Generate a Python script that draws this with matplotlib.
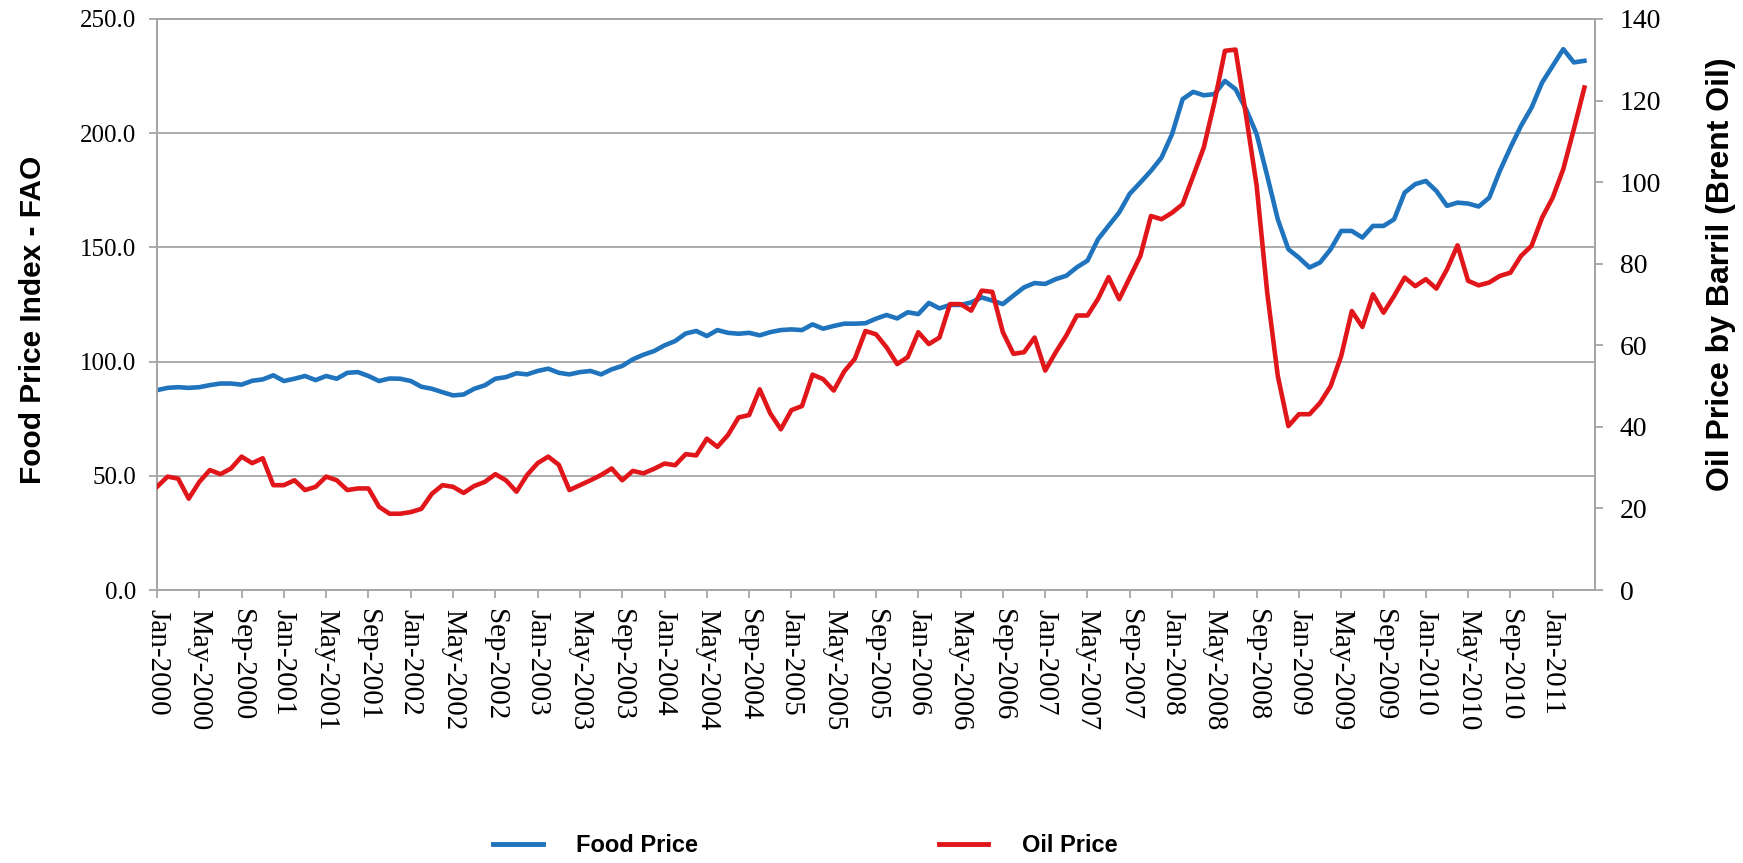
import numpy as np
import matplotlib
matplotlib.use("Agg")
import matplotlib.pyplot as plt
from matplotlib.lines import Line2D

# monthly values, Jan-2000 .. Apr-2011
food_price = [
    87.5, 88.5, 88.8, 88.5, 88.8, 89.7, 90.4, 90.4, 89.9, 91.6, 92.2, 94.0,
    91.5, 92.5, 93.7, 91.9, 93.7, 92.5, 95.1, 95.4, 93.7, 91.5, 92.6, 92.5,
    91.5, 89.0, 88.1, 86.6, 85.2, 85.6, 88.1, 89.6, 92.5, 93.2, 94.9, 94.4,
    95.9, 96.9, 95.1, 94.4, 95.4, 95.9, 94.4, 96.6, 98.1, 101.0, 103.0, 104.6,
    107.1, 109.0, 112.3, 113.4, 111.2, 113.8, 112.6, 112.2, 112.6, 111.5, 112.9, 113.8,
    114.1, 113.8, 116.3, 114.4, 115.6, 116.6, 116.6, 116.8, 118.8, 120.4, 118.9, 121.6,
    120.8, 125.7, 123.3, 124.8, 124.8, 125.9, 128.1, 126.7, 125.2, 128.9, 132.5, 134.4,
    134.0, 136.1, 137.6, 141.3, 144.2, 153.6, 159.5, 165.3, 173.5, 178.4, 183.5, 189.3,
    199.6, 214.9, 218.1, 216.6, 217.1, 222.9, 219.3, 210.5, 199.6, 181.3, 162.3, 149.2,
    145.5, 141.2, 143.4, 149.2, 157.2, 157.2, 154.3, 159.4, 159.4, 162.3, 174.0, 177.7,
    179.1, 174.7, 168.2, 169.6, 169.2, 167.9, 171.8, 183.5, 193.7, 203.2, 211.2, 222.2,
    229.5, 236.8, 231.0, 231.7]

oil_price = [
    25.3, 27.8, 27.3, 22.4, 26.5, 29.4, 28.4, 29.8, 32.7, 31.1, 32.3, 25.7,
    25.7, 26.9, 24.5, 25.3, 27.8, 26.9, 24.5, 24.9, 24.9, 20.4, 18.7, 18.7,
    19.1, 19.9, 23.6, 25.7, 25.3, 23.8, 25.5, 26.5, 28.4, 26.9, 24.1, 28.2,
    31.1, 32.7, 30.7, 24.5, 25.7, 26.9, 28.2, 29.8, 26.9, 29.2, 28.6, 29.7,
    31.0, 30.6, 33.3, 33.0, 37.1, 35.1, 38.0, 42.3, 42.9, 49.2, 43.3, 39.4,
    44.1, 45.1, 52.8, 51.7, 48.9, 53.6, 56.7, 63.5, 62.7, 59.5, 55.4, 57.1,
    63.2, 60.3, 61.9, 70.1, 70.1, 68.5, 73.4, 73.1, 63.2, 57.9, 58.3, 61.9,
    53.8, 58.3, 62.4, 67.3, 67.3, 71.4, 76.7, 71.3, 76.6, 81.9, 91.7, 90.9,
    92.5, 94.6, 101.5, 108.5, 119.5, 132.2, 132.5, 116.3, 99.1, 72.9, 52.5, 40.2,
    43.1, 43.1, 45.9, 50.0, 57.4, 68.4, 64.5, 72.5, 68.0, 72.1, 76.6, 74.5,
    76.2, 73.9, 78.6, 84.5, 75.8, 74.7, 75.4, 77.0, 77.8, 81.9, 84.4, 91.3,
    96.2, 103.2, 113.0, 123.2]

# every 4th month gets a label
tick_labels = [
    "Jan-2000", "May-2000", "Sep-2000", "Jan-2001", "May-2001", "Sep-2001",
    "Jan-2002", "May-2002", "Sep-2002", "Jan-2003", "May-2003", "Sep-2003",
    "Jan-2004", "May-2004", "Sep-2004", "Jan-2005", "May-2005", "Sep-2005",
    "Jan-2006", "May-2006", "Sep-2006", "Jan-2007", "May-2007", "Sep-2007",
    "Jan-2008", "May-2008", "Sep-2008", "Jan-2009", "May-2009", "Sep-2009",
    "Jan-2010", "May-2010", "Sep-2010", "Jan-2011"]

blue = "#1f74bd"
red = "#e0161b"
grey = "#a6a6a6"
serif = "Liberation Serif"
sans = "Liberation Sans"

x = np.arange(len(food_price))

fig = plt.figure(figsize=(17.43, 8.63), dpi=100)
W, H = 1743, 863
ax = fig.add_axes([157 / W, 1 - 590 / H, (1595 - 157) / W, (590 - 19) / H])
ax2 = ax.twinx()

# food index on left axis, oil on right axis
ax.plot(x, food_price, color=blue, lw=3.3, solid_joinstyle="round", zorder=3)
ax2.plot(x, oil_price, color=red, lw=3.3, solid_joinstyle="round", zorder=3)

ax.set_xlim(0, 136)
ax.set_ylim(0, 250)
ax2.set_ylim(0, 140)

ax.set_yticks(np.arange(0, 251, 50))
ax.set_yticklabels([f"{v:.1f}" for v in np.arange(0, 251, 50)],
                   family=serif, fontsize=18)
ax2.set_yticks(np.arange(0, 141, 20))
ax2.set_yticklabels([str(v) for v in range(0, 141, 20)],
                    family=serif, fontsize=20)

ax.set_xticks(np.arange(0, 133, 4))
ax.set_xticklabels(tick_labels, family=serif, fontsize=21,
                   rotation=270, va="top", ha="center")

# horizontal gridlines only, grey frame
ax.grid(axis="y", color=grey, lw=1.3)
ax.set_axisbelow(True)
for a in (ax, ax2):
    for s in a.spines.values():
        s.set_color(grey)
        s.set_linewidth(1.3)
ax.tick_params(axis="y", length=6, color=grey, width=1.3, pad=9)
ax.tick_params(axis="x", length=6, color=grey, width=1.3, pad=8)
ax2.tick_params(axis="y", length=6, color=grey, width=1.3, pad=12)

fig.text(33 / W, 1 - 320 / H, "Food Price Index - FAO", rotation=90,
         family=sans, weight="bold", fontsize=21.5, ha="center", va="center")
fig.text(1721 / W, 1 - 274 / H, "Oil Price by Barril (Brent Oil)", rotation=90,
         family=sans, weight="bold", fontsize=23, ha="center", va="center")

handles = [Line2D([], [], color=blue, lw=3.5), Line2D([], [], color=red, lw=3.5)]
fig.legend(handles, ["Food Price", "Oil Price"], loc="center",
           bbox_to_anchor=(0.462, 0.02), ncol=2, frameon=False,
           prop={"family": sans, "weight": "bold", "size": 17},
           handlelength=2.1, handletextpad=1.4, columnspacing=10.2)

fig.savefig("out.png", dpi=100)
